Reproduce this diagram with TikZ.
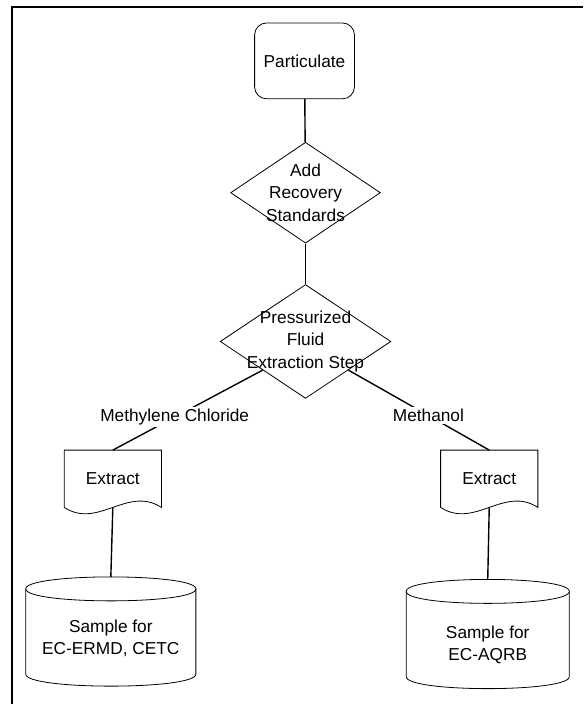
\documentclass[tikz,border=0pt]{standalone}
\usepackage{fontspec}
\setmainfont{Liberation Sans}
\usepackage{tikz}
\usetikzlibrary{shapes.geometric,positioning}

% outline of a document box with a wavy bottom edge
\newcommand{\docshape}[1]{%
  \draw[shapeline] (#1.south west) -- (#1.north west) -- (#1.north east) -- (#1.south east)
    .. controls +(-34pt,22pt) and +(34pt,-22pt) .. (#1.south west);
}
% outline of a storage cylinder
\newcommand{\cylshape}[1]{%
  \draw[shapeline] ([yshift=-12pt]#1.north west) -- ([yshift=12pt]#1.south west)
    .. controls ([yshift=-4pt]#1.south west) and ([yshift=-4pt]#1.south east) .. ([yshift=12pt]#1.south east)
    -- ([yshift=-12pt]#1.north east)
    .. controls ([yshift=4pt]#1.north east) and ([yshift=4pt]#1.north west) .. ([yshift=-12pt]#1.north west);
  \draw[shapeline] ([yshift=-12pt]#1.north west) .. controls ([yshift=-28pt]#1.north west) and ([yshift=-28pt]#1.north east) .. ([yshift=-12pt]#1.north east);
}

\begin{document}
\begin{tikzpicture}[x=1pt,y=-1pt,
    every node/.style={font=\fontsize{17.3pt}{22.5pt}\selectfont},
    shapeline/.style={line width=0.8pt},
    link/.style={line width=1.4pt},
    startbox/.style={draw,shapeline,rectangle,rounded corners=12pt,minimum width=100pt,minimum height=76pt},
    decision/.style={draw,shapeline,diamond,aspect=1.5,inner sep=0pt},
    steptext/.style={align=center,inner sep=0pt},
    extract/.style={rectangle,minimum width=97pt,minimum height=57pt,inner sep=0pt},
    store/.style={rectangle,minimum height=109pt,inner sep=0pt},
    solvent/.style={fill=white,inner sep=2pt}]
    \fill[white] (0,0) rectangle (584,705);
    \draw[line width=2.2pt] (584,7) -- (12,7) -- (12,705);

    \node (part) [startbox] at (305,61) {Particulate};
    \node (addrec) [decision,minimum width=150pt,minimum height=101pt] at (306,193) {};
    \node (addrectxt) [steptext] at (addrec) {Add\\Recovery\\Standards};
    \node (pfe) [decision,minimum width=171pt,minimum height=114pt] at (306,342) {};
    \node (pfetxt) [steptext] at (pfe) {Pressurized\\Fluid\\Extraction Step};

    \node (exl) [extract] at (113,479.5) {Extract};
    \node (exr) [extract] at (490,479.5) {Extract};
    \docshape{exl}
    \docshape{exr}

    \node (cyll) [store,minimum width=170pt] at (111,632.5) {};
    \node (cylltxt) [steptext] at ([yshift=-7pt]cyll) {Sample for\\EC-ERMD, CETC};
    \node (cylr) [store,minimum width=163pt] at (488.5,635) {};
    \node (cylrtxt) [steptext] at ([yshift=-11pt]cylr) {Sample for\\EC-AQRB};
    \cylshape{cyll}
    \cylshape{cylr}

    \draw[link] (part) -- (addrec);
    \draw[link] (addrec) -- (pfe);
    \draw[link] (pfe.south west) -- node[solvent,pos=0.587] {Methylene Chloride} (exl.north);
    \draw[link] (pfe.south east) -- node[solvent,pos=0.568] {Methanol} (exr.north);
    \draw[link] (exl.south) -- (cyll.north);
    \draw[link] (exr.south) -- (cylr.north);
  \end{tikzpicture}
\end{document}
